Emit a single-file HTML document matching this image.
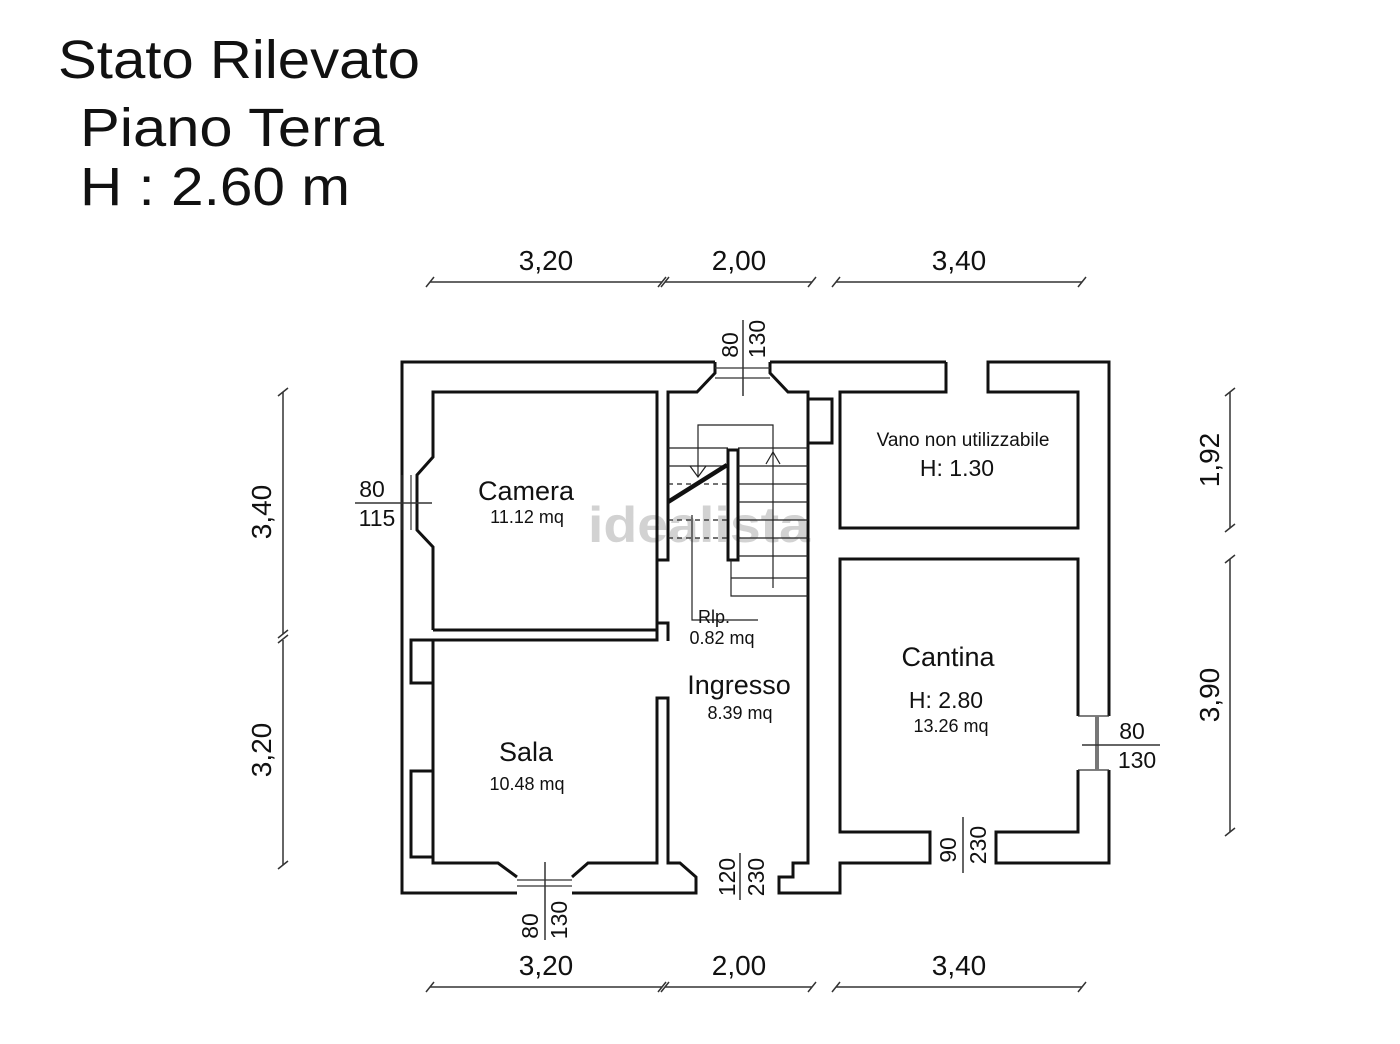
<!DOCTYPE html>
<html><head><meta charset="utf-8"><style>
html,body{margin:0;padding:0;background:#fff;}
svg{display:block;}
text{font-family:"Liberation Sans",sans-serif;fill:#111;}
</style></head><body>
<svg width="1400" height="1044" viewBox="0 0 1400 1044" xmlns="http://www.w3.org/2000/svg">
<text x="58" y="78" font-size="54" textLength="362" lengthAdjust="spacingAndGlyphs">Stato Rilevato</text>
<text x="80" y="146" font-size="54" textLength="304" lengthAdjust="spacingAndGlyphs">Piano Terra</text>
<text x="80" y="205" font-size="54" textLength="270" lengthAdjust="spacingAndGlyphs">H : 2.60 m</text>

<!-- watermark -->
<text x="588" y="542" font-size="50" font-weight="bold" style="fill:#d2d2d2" textLength="222" lengthAdjust="spacingAndGlyphs">idealista</text>

<g fill="none" stroke="#111" stroke-width="3" stroke-linejoin="miter">
<path d="M946,362 L770,362 M715,362 L402,362 L402,893 L517,893 M572,893 L696,893 L696,877 L680,863 L668,863 L668,698 L657,698 L657,863 L588,863 L572,877 M517,877 L498,863 L433,863 L433,640 L657,640 L657,623 L668,623 L668,641 M433,630 L657,630 L657,560 L668,560 L668,392 L697,392 L715,373 L715,362 M770,362 L770,373 L788,392 L808,392 L808,863 L793,863 L793,877 L779,877 L779,893 L840,893 L840,863 L930,863 L930,832 L840,832 L840,559 L1078,559 L1078,716 M1078,770 L1078,832 L996,832 L996,863 L1109,863 L1109,770 M1109,716 L1109,362 L988,362 L988,392 L1078,392 L1078,528 L840,528 L840,392 L946,392 L946,362"/>
<path d="M433,630 L433,547 L417,530 L417,475 L433,457 L433,392 L657,392 L657,560"/>
<path d="M668,623 L668,630"/>
<rect x="728" y="450" width="10" height="110"/>
<rect x="808" y="399" width="24" height="44"/>
<path d="M433,640 L411,640 L411,683 L433,683 M433,771 L411,771 L411,857 L433,857"/>
</g>
<g fill="none" stroke="#111" stroke-width="2.5" stroke-dasharray="6,4">
<path d="M433,640 L433,683 M433,771 L433,857"/>
</g>
<g stroke="#333" stroke-width="1.2" fill="none">
<path d="M715,368 L770,368 M715,378 L770,378"/>
<path d="M402,475 L402,530 M411,475 L411,530"/>
<path d="M517,880 L572,880 M517,886 L572,886"/>
<path d="M1078,716 L1109,716 M1078,770 L1109,770"/>
</g>
<path d="M1097,716 L1097,770" stroke="#777" stroke-width="4"/>

<g stroke="#222" stroke-width="1.2" fill="none">
<path d="M698,477 L698,425 L773,425 L773,588"/>
<path d="M690,466 L698,477 L706,466"/>
<path d="M766,464 L773,452 L780,464"/>
<path d="M668,448 L728,448 M668,466 L728,466 M738,448 L808,448 M738,466 L808,466 M738,484 L808,484 M738,502 L808,502 M738,520 L808,520 M738,538 L808,538 M738,556 L808,556 M731,560 L731,596 L808,596 M731,578 L808,578"/>
<path d="M668,484 L728,484 M668,520 L728,520 M668,538 L728,538" stroke-dasharray="5,4"/>
<path d="M692,515 L692,620 L758,620"/>
</g>
<path d="M668,502 L727,465" stroke="#111" stroke-width="4.5"/>

<g stroke="#333" stroke-width="1.5" fill="none">
<path d="M430,282 L662,282 M665,282 L812,282 M836,282 L1082,282"/>
<path d="M426,287 L434,277 M658,287 L666,277 M661,287 L669,277 M808,287 L816,277 M832,287 L840,277 M1078,287 L1086,277"/>
<path d="M430,987 L662,987 M665,987 L812,987 M836,987 L1082,987"/>
<path d="M426,992 L434,982 M658,992 L666,982 M661,992 L669,982 M808,992 L816,982 M832,992 L840,982 M1078,992 L1086,982"/>
<path d="M283,392 L283,634 M283,640 L283,865"/>
<path d="M278,396 L288,388 M278,638 L288,630 M278,643 L288,635 M278,869 L288,861"/>
<path d="M1230,392 L1230,528 M1230,559 L1230,832"/>
<path d="M1225,396 L1235,388 M1225,532 L1235,524 M1225,563 L1235,555 M1225,836 L1235,828"/>
<path d="M355,503 L432,503"/>
<path d="M743,320 L743,396"/>
<path d="M545,862 L545,940"/>
<path d="M740,853 L740,900"/>
<path d="M963,817 L963,873"/>
<path d="M1082,745 L1160,745"/>
</g>

<g font-size="28" text-anchor="middle">
<text x="546" y="270">3,20</text>
<text x="739" y="270">2,00</text>
<text x="959" y="270">3,40</text>
<text x="546" y="975">3,20</text>
<text x="739" y="975">2,00</text>
<text x="959" y="975">3,40</text>
<text transform="translate(271,512) rotate(-90)">3,40</text>
<text transform="translate(271,750) rotate(-90)">3,20</text>
<text transform="translate(1219,460) rotate(-90)">1,92</text>
<text transform="translate(1219,695) rotate(-90)">3,90</text>
</g>
<g font-size="23" text-anchor="middle">
<text x="372" y="497">80</text>
<text x="377" y="526">115</text>
<text transform="translate(738,345) rotate(-90)">80</text>
<text transform="translate(765,339) rotate(-90)">130</text>
<text transform="translate(538,926) rotate(-90)">80</text>
<text transform="translate(567,920) rotate(-90)">130</text>
<text transform="translate(735,877) rotate(-90)">120</text>
<text transform="translate(764,877) rotate(-90)">230</text>
<text transform="translate(956,850) rotate(-90)">90</text>
<text transform="translate(986,845) rotate(-90)">230</text>
<text x="1132" y="739">80</text>
<text x="1137" y="768">130</text>
</g>

<g text-anchor="middle">
<text x="526" y="500" font-size="27">Camera</text>
<text x="527" y="523" font-size="18">11.12 mq</text>
<text x="526" y="761" font-size="27">Sala</text>
<text x="527" y="790" font-size="18">10.48 mq</text>
<text x="739" y="694" font-size="27">Ingresso</text>
<text x="740" y="719" font-size="18">8.39 mq</text>
<text x="948" y="666" font-size="27">Cantina</text>
<text x="946" y="708" font-size="23">H: 2.80</text>
<text x="951" y="732" font-size="18">13.26 mq</text>
<text x="963" y="446" font-size="19">Vano non utilizzabile</text>
<text x="957" y="476" font-size="23">H: 1.30</text>
<text x="714" y="623" font-size="18">Rlp.</text>
<text x="722" y="644" font-size="18">0.82 mq</text>
</g>
</svg>
</body></html>
